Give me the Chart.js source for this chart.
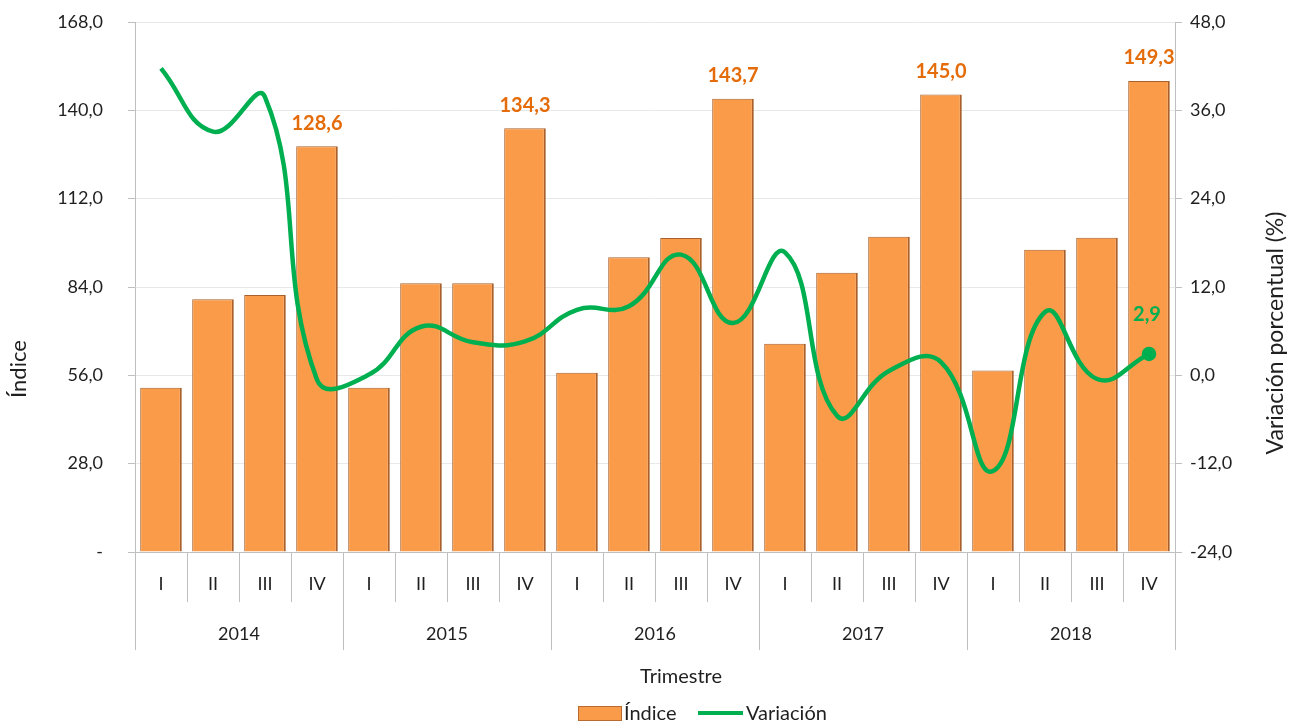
<!DOCTYPE html>
<html>
<head>
<meta charset="utf-8">
<script src="https://cdn.jsdelivr.net/npm/chart.js@4/dist/chart.umd.min.js"></script>
<style>
  html, body { margin: 0; padding: 0; background: #fff; }
  #wrap { width: 1292px; height: 725px; }
</style>
</head>
<body>
<div id="wrap"><canvas id="chart"></canvas></div>
<script>
// Chart data
const years = ['2014', '2015', '2016', '2017', '2018'];
const quarters = ['I', 'II', 'III', 'IV'];
const indice = [52.1, 80.1, 81.5, 128.6, 52.1, 85.2, 85.2, 134.3, 56.8, 93.4, 99.5, 143.7, 66.0, 88.5, 99.9, 145.0, 57.5, 95.8, 99.6, 149.3];
const variacion = [41.7, 33.1, 37.8, -0.6, 0.1, 6.6, 4.5, 4.6, 8.9, 9.4, 16.4, 7.1, 16.7, -5.5, 0.6, 1.8, -13.0, 8.6, -0.5, 2.9];
const labeledBars = [3, 7, 11, 15, 19];

const FONT = 'Lato, "DejaVu Sans", sans-serif';
const ORANGE = '#F99B48';
const GREEN = '#00B050';
const GRAY_LINE = '#BFBFBF';
const TEXT = '#1F1F1F';

const labels = years.flatMap(y => quarters.map(q => q + ' ' + y));

function fmt(v) {
    return v.toFixed(1).replace('.', ',');
}

// Draws two-level category axis, titles, legend and value labels
const extrasPlugin = {
    id: 'extras',
    afterDraw(chart) {
        const ctx = chart.ctx;
        const x = chart.scales.x;
        const area = chart.chartArea;
        const step = x.getPixelForValue(1) - x.getPixelForValue(0);
        ctx.save();

        // separators below the axis
        ctx.strokeStyle = GRAY_LINE;
        ctx.lineWidth = 1;
        for (let i = 0; i <= labels.length; i++) {
            const px = Math.round(x.getPixelForValue(i) - step / 2) + 0.5;
            const isYear = i % quarters.length === 0;
            ctx.beginPath();
            ctx.moveTo(px, area.bottom);
            ctx.lineTo(px, isYear ? 650 : 602);
            ctx.stroke();
        }

        // quarter and year labels
        ctx.fillStyle = TEXT;
        ctx.font = '18px ' + FONT;
        ctx.textAlign = 'center';
        ctx.textBaseline = 'middle';
        labels.forEach((lab, i) => {
            ctx.fillText(quarters[i % quarters.length], x.getPixelForValue(i), 584);
        });
        years.forEach((yr, j) => {
            const a = x.getPixelForValue(j * 4);
            const b = x.getPixelForValue(j * 4 + 3);
            ctx.fillText(yr, (a + b) / 2, 634);
        });

        // axis titles
        ctx.font = '20px ' + FONT;
        ctx.fillText('Trimestre', 681, 677);
        ctx.save();
        ctx.translate(19, 369);
        ctx.rotate(-Math.PI / 2);
        ctx.font = '22px ' + FONT;
        ctx.fillText('Índice', 0, 0);
        ctx.restore();
        ctx.save();
        ctx.translate(1276, 333);
        ctx.rotate(-Math.PI / 2);
        ctx.font = '23px ' + FONT;
        ctx.fillText('Variación porcentual (%)', 0, 0);
        ctx.restore();

        // legend
        ctx.font = '20px ' + FONT;
        ctx.fillStyle = ORANGE;
        ctx.fillRect(578, 706, 44, 15);
        ctx.lineWidth = 1;
        ctx.strokeStyle = '#B96A2E';
        ctx.strokeRect(578.5, 706.5, 43, 14);
        ctx.fillStyle = TEXT;
        ctx.textAlign = 'left';
        ctx.fillText('Índice', 624, 714);
        ctx.strokeStyle = GREEN;
        ctx.lineWidth = 4;
        ctx.beginPath();
        ctx.moveTo(698, 713);
        ctx.lineTo(743, 713);
        ctx.stroke();
        ctx.fillText('Variación', 746, 714);

        // value labels
        ctx.textAlign = 'center';
        ctx.textBaseline = 'middle';
        ctx.font = 'bold 20px ' + FONT;
        ctx.fillStyle = '#E46C0A';
        const barMeta = chart.getDatasetMeta(0);
        labeledBars.forEach(i => {
            const el = barMeta.data[i];
            ctx.fillText(fmt(indice[i]), el.x, el.y - 23);
        });
        const lineMeta = chart.getDatasetMeta(1);
        const last = lineMeta.data[variacion.length - 1];
        ctx.fillStyle = GREEN;
        ctx.fillText(fmt(variacion[variacion.length - 1]), last.x - 2, last.y - 39);

        ctx.restore();
    }
};

const ctx = document.getElementById('chart').getContext('2d');
new Chart(ctx, {
    data: {
        labels: labels,
        datasets: [
            {
                type: 'bar',
                label: 'Índice',
                data: indice,
                yAxisID: 'y',
                backgroundColor: ORANGE,
                borderColor: '#A9602A',
                borderWidth: { top: 1, left: 1, right: 2, bottom: 0 },
                barPercentage: 0.8,
                categoryPercentage: 1.0,
                order: 1
            },
            {
                type: 'line',
                label: 'Variación',
                data: variacion,
                yAxisID: 'y1',
                borderColor: GREEN,
                borderWidth: 4.5,
                tension: 0.45,
                pointRadius: variacion.map((v, i) => i === variacion.length - 1 ? 5 : 0),
                pointBackgroundColor: GREEN,
                pointBorderColor: GREEN,
                order: 0
            }
        ]
    },
    options: {
        responsive: true,
        maintainAspectRatio: false,
        animation: false,
        layout: { padding: { top: 22, left: 0, right: 0, bottom: 0 } },
        plugins: {
            legend: { display: false },
            tooltip: { enabled: false }
        },
        scales: {
            x: {
                grid: { display: false },
                ticks: { display: false },
                border: { color: GRAY_LINE },
                afterFit: s => { s.height = 173; s.paddingLeft = 0; s.paddingRight = 0; }
            },
            y: {
                position: 'left',
                min: 0,
                max: 168,
                afterFit: s => { s.width = 135; s.paddingTop = 0; s.paddingBottom = 0; },
                ticks: {
                    stepSize: 28,
                    padding: 25,
                    color: TEXT,
                    font: { family: FONT, size: 18 },
                    callback: v => v === 0 ? '-' : fmt(v)
                },
                grid: { color: '#E8E8E8', tickColor: GRAY_LINE, tickLength: 7 },
                border: { color: GRAY_LINE }
            },
            y1: {
                position: 'right',
                min: -24,
                max: 48,
                afterFit: s => { s.width = 117; s.paddingTop = 0; s.paddingBottom = 0; },
                ticks: {
                    stepSize: 12,
                    padding: 8,
                    color: TEXT,
                    font: { family: FONT, size: 18 },
                    callback: v => fmt(v)
                },
                grid: { drawOnChartArea: false, tickColor: GRAY_LINE, tickLength: 7 },
                border: { color: GRAY_LINE }
            }
        }
    },
    plugins: [extrasPlugin]
});
</script>
</body>
</html>
